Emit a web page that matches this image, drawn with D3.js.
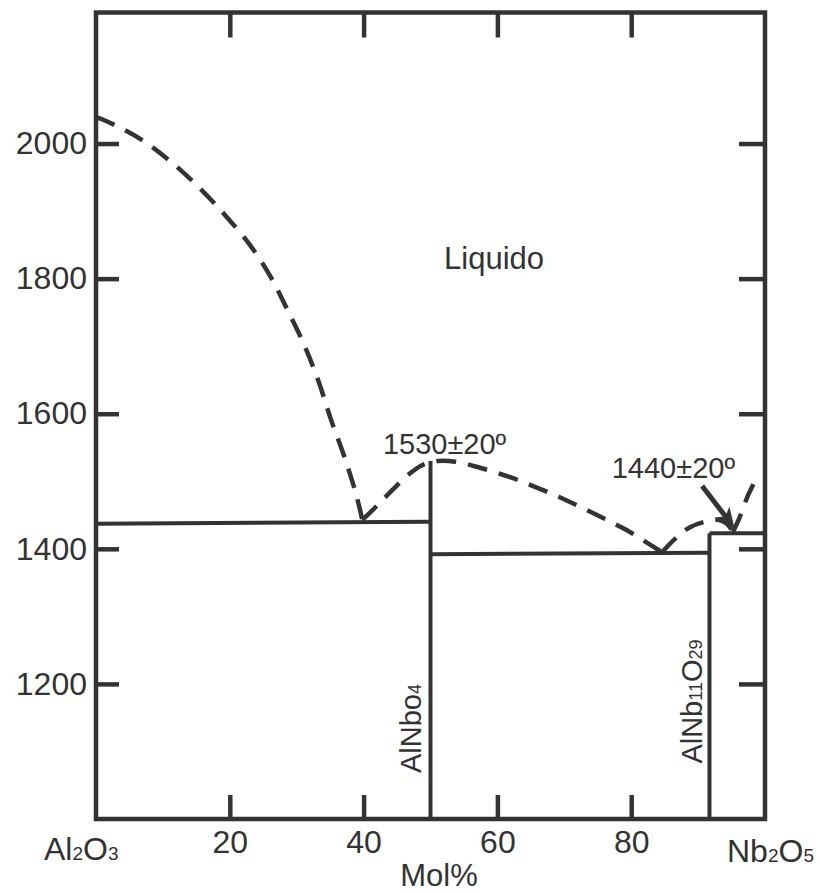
<!DOCTYPE html>
<html>
<head>
<meta charset="utf-8">
<script src="https://cdn.jsdelivr.net/npm/d3@7"></script>
<style>
  body { margin: 0; background: #fff; }
  svg text { font-family: "Liberation Sans", Arial, sans-serif; fill: #333; }
  .axis .domain { display: none; }
  .axis line { stroke: #333; stroke-width: 4.5; }
</style>
</head>
<body>
<svg id="chart" width="820" height="893"></svg>
<script>
// temperature ticks (C) and composition ticks (mol% Nb2O5)
var yTicks = [1200, 1400, 1600, 1800, 2000],
xTicks = [20, 40, 60, 80];

// liquidus: [mol% Nb2O5, T]
var liqAl2O3 = [[0, 2039], [1.6, 2033], [6.6, 2007], [11.2, 1973], [15.5, 1934], [19.3, 1894],
  [23.0, 1850], [26.2, 1801], [28.7, 1752], [31.2, 1700], [33.3, 1647], [35.1, 1592],
  [37.1, 1537], [38.9, 1480], [39.8, 1443]];
var liqAlNbO4 = [[39.8, 1443], [41.0, 1454], [44.2, 1486], [46.5, 1508], [48.6, 1523], [51.1, 1530],
  [53.7, 1529], [57.4, 1520], [61.9, 1506], [65.8, 1491], [69.4, 1476], [72.8, 1460],
  [76.1, 1444], [79.8, 1425], [82.7, 1407], [84.6, 1395]];
var liqAlNb11O29 = [[84.6, 1395], [86.8, 1417], [88.8, 1432], [91.0, 1440], [93.0, 1443],
  [94.3, 1437], [95.2, 1425]];
var liqNb2O5 = [[95.2, 1425], [96.1, 1444], [97.5, 1480], [98.8, 1506]];

// solidus / compound lines
var solidLines = [
  [[0, 1437], [50, 1440]],
  [[50, 1530], [50, 1000]],
  [[50, 1392], [91.7, 1394]],
  [[91.7, 1423], [91.7, 1000]],
  [[91.7, 1423], [100, 1423]]
];

var arrowFrom = [90.6, 1493], arrowTo = [94.8, 1439];

var svg = d3.select("#chart"),
pL = 96, pR = 765, pT = 12.5, pB = 819;

var x = d3.scaleLinear()
  .domain([0, 100])
  .range([pL, pR]);

var y = d3.scaleLinear()
  .domain([1000, 2194])
  .range([pB, pT]);

var line = d3.line()
  .x(d => x(d[0]))
  .y(d => y(d[1]));

var curve = d3.line()
  .curve(d3.curveCatmullRom.alpha(0.5))
  .x(d => x(d[0]))
  .y(d => y(d[1]));

// axes, ticks pointing inward
svg.append("g")
  .attr("class", "axis")
  .attr("transform", "translate(" + pL + ",0)")
  .call(d3.axisLeft(y).tickValues(yTicks).tickSize(-23).tickPadding(9).tickFormat(d3.format("d")))
  .selectAll("text").style("font-size", "32px");

svg.append("g")
  .attr("class", "axis")
  .attr("transform", "translate(" + pR + ",0)")
  .call(d3.axisRight(y).tickValues(yTicks).tickSize(-26).tickFormat(""));

svg.append("g")
  .attr("class", "axis")
  .attr("transform", "translate(0," + pB + ")")
  .call(d3.axisBottom(x).tickValues(xTicks).tickSize(-24).tickPadding(11))
  .selectAll("text").style("font-size", "32px");

svg.append("g")
  .attr("class", "axis")
  .attr("transform", "translate(0," + pT + ")")
  .call(d3.axisTop(x).tickValues(xTicks).tickSize(-25).tickFormat(""));

// frame
svg.append("rect")
  .attr("x", pL).attr("y", pT)
  .attr("width", pR - pL).attr("height", pB - pT)
  .attr("fill", "none")
  .attr("stroke", "#333")
  .attr("stroke-width", 4.5);

// solid phase boundaries
svg.selectAll(".solid")
  .data(solidLines)
  .enter().append("path")
  .attr("class", "solid")
  .attr("d", line)
  .attr("fill", "none")
  .attr("stroke", "#333")
  .attr("stroke-width", 4);

// dashed liquidus
svg.selectAll(".liq")
  .data([liqAl2O3, liqAlNbO4, liqAlNb11O29, liqNb2O5])
  .enter().append("path")
  .attr("class", "liq")
  .attr("d", curve)
  .attr("fill", "none")
  .attr("stroke", "#333")
  .attr("stroke-width", 4.5)
  .attr("stroke-dasharray", "20,12");

// arrow
svg.append("defs").append("marker")
  .attr("id", "head")
  .attr("markerUnits", "userSpaceOnUse")
  .attr("viewBox", "0 0 20 18")
  .attr("markerWidth", 20).attr("markerHeight", 18)
  .attr("refX", 13).attr("refY", 9)
  .attr("orient", "auto")
  .append("path")
  .attr("d", "M0,0 L20,9 L0,18 L5,9 Z")
  .attr("fill", "#333");

svg.append("path")
  .attr("d", line([arrowFrom, arrowTo]))
  .attr("stroke", "#333")
  .attr("stroke-width", 5)
  .attr("marker-end", "url(#head)");

// labels
svg.append("text")
  .attr("x", x(59.5)).attr("y", y(1814))
  .attr("text-anchor", "middle")
  .style("font-size", "31px")
  .text("Liquido");

svg.append("text")
  .attr("x", x(52.1)).attr("y", y(1540))
  .attr("text-anchor", "middle")
  .style("font-size", "29px")
  .text("1530±20º");

svg.append("text")
  .attr("x", x(86.3)).attr("y", y(1505))
  .attr("text-anchor", "middle")
  .style("font-size", "29px")
  .text("1440±20º");

function formula(sel, parts, big, small) {
  parts.forEach(p => {
    sel.append("tspan")
      .style("font-size", p[1] ? small : big)
      .text(p[0]);
  });
}

var al = svg.append("text")
  .attr("x", 44).attr("y", 860);
formula(al, [["Al", 0], ["2", 1], ["O", 0], ["3", 1]], "32px", "19px");

var nb = svg.append("text")
  .attr("x", 727).attr("y", 862);
formula(nb, [["Nb", 0], ["2", 1], ["O", 0], ["5", 1]], "32px", "19px");

svg.append("text")
  .attr("x", 439).attr("y", 886)
  .attr("text-anchor", "middle")
  .style("font-size", "31px")
  .text("Mol%");

var c1 = svg.append("text")
  .attr("transform", "translate(" + (x(50) - 10) + "," + y(1068) + ") rotate(-90)");
formula(c1, [["AlNbo", 0], ["4", 1]], "29px", "18px");

var c2 = svg.append("text")
  .attr("transform", "translate(" + (x(91.7) - 7) + "," + y(1082) + ") rotate(-90)");
formula(c2, [["AlNb", 0], ["11", 1], ["O", 0], ["29", 1]], "29px", "18px");
</script>
</body>
</html>
